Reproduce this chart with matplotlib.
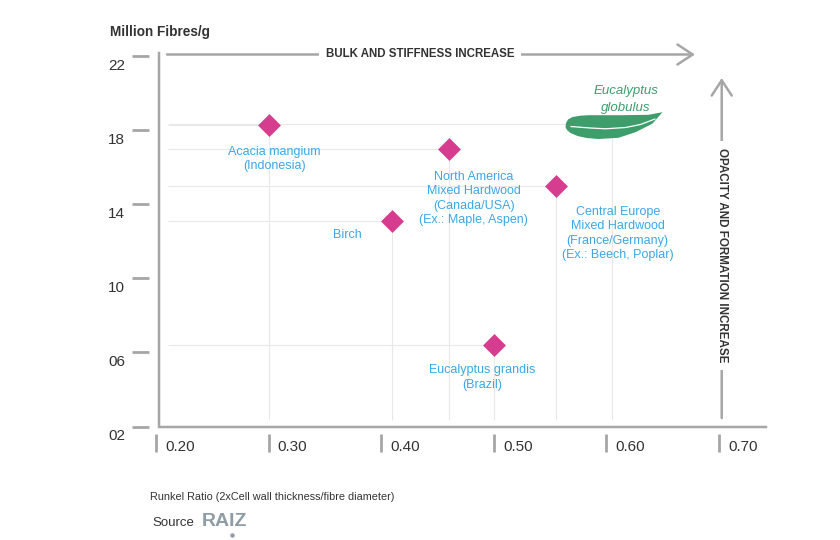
import matplotlib as mpl
import matplotlib.pyplot as plt
from matplotlib.path import Path

plt.rcParams['font.family'] = ['Liberation Sans', 'DejaVu Sans']

# data
species = ['Acacia mangium\n(Indonesia)',
           'Birch',
           'North America\nMixed Hardwood\n(Canada/USA)\n(Ex.: Maple, Aspen)',
           'Central Europe\nMixed Hardwood\n(France/Germany)\n(Ex.: Beech, Poplar)',
           'Eucalyptus grandis\n(Brazil)']
runkel = [0.30, 0.41, 0.46, 0.555, 0.50]
fibres = [18.3, 13.1, 17.0, 15.0, 6.4]

globulus_name = 'Eucalyptus\nglobulus'
globulus_runkel = 0.605
globulus_fibres = 18.35

xticks = [0.20, 0.30, 0.40, 0.50, 0.60, 0.70]
xticklabels = ['0.20', '0.30', '0.40', '0.50', '0.60', '0.70']
yticks = [22, 18, 14, 10, 6, 2]
yticklabels = ['22', '18', '14', '10', '06', '02']

# label offsets in px (dx, dy down to first line centre)
label_off = [(6, 26), (-45, 13), (25, 27), (62, 25), (-12, 24)]

PX = 0.72  # points per pixel at dpi 100
axis_grey = '#a6a6a6'
grid_grey = '#e8e8e8'
pink = '#d63d8e'
blue = '#3aa8e6'
green = '#3d9e6c'
dark = '#333333'

fig = plt.figure(figsize=(8.4, 5.4), dpi=100)
ax = fig.add_axes([156 / 840, 1 - 426.5 / 540, 610 / 840, 373.8 / 540])
ax.set_xlim(0.2, 0.2 + 610 / 1126)
ax.set_ylim(2, 22 + 3.3 / 18.53)

for s in ax.spines.values():
    s.set_visible(False)
ax.spines['left'].set_position(('outward', 7 * PX))
ax.spines['bottom'].set_position(('outward', 7 * PX))
ax.set_xticks(xticks)
ax.set_yticks(yticks)
ax.tick_params(axis='y', length=17 * PX, width=2, color=axis_grey, labelleft=False)
ax.tick_params(axis='x', length=18 * PX, width=2, color=axis_grey, labelbottom=False)

# visible axis lines
ax.plot([0.0054, 0.0054, 1], [1, 0, 0], transform=ax.transAxes, color=axis_grey,
        lw=2.5 * PX, clip_on=False, solid_joinstyle='miter', zorder=3)

for v, lab in zip(yticks, yticklabels):
    ax.annotate(lab, xy=(0, v), xycoords=('axes fraction', 'data'),
                xytext=(-31 * PX, -10 * PX), textcoords='offset points',
                ha='right', va='center', fontsize=11, color=dark)
for v, lab in zip(xticks, xticklabels):
    ax.annotate(lab, xy=(v, 0), xycoords=('data', 'axes fraction'),
                xytext=(24 * PX, -20.5 * PX), textcoords='offset points',
                ha='center', va='center', fontsize=11, color=dark)

# guide lines
all_x = runkel + [globulus_runkel]
all_y = fibres + [globulus_fibres]
ax.hlines(all_y, 0.2107, all_x, color=grid_grey, lw=0.8, zorder=1)
ax.vlines(all_x, 2.35, all_y, color=grid_grey, lw=0.8, zorder=1)

# points
ax.plot(runkel, fibres, ls='none', marker=(4, 0, 0), ms=16.5, color=pink, mew=0, zorder=4)

for name, x, y, (dx, dy) in zip(species, runkel, fibres, label_off):
    ax.annotate(name, xy=(x, y), xytext=(dx * PX, -(dy - 5) * PX),
                textcoords='offset points', ha='center', va='top',
                fontsize=9, color=blue, linespacing=1.28, zorder=5)

# leaf marker for Eucalyptus globulus
leaf = [(-47, -2.7), (-46.5, 1.5), (-44.5, 5), (-40, 7.5), (-32, 8.8), (-24, 9.3),
        (9.7, 9.3), (36, 9.7), (50, 12.3), (39.7, 0.7), (23, -7.7), (6, -13.3),
        (-14, -14.5), (-26, -13.5), (-35, -11.5), (-42, -8.5), (-45.5, -5.5), (-47, -2.7)]
leaf_path = Path(leaf, closed=True)
vein = [(-42, -2), (-22, -3.5), (-7, -4.3), (13, -3), (28, 0), (43, 5.7)]
vein_path = Path(vein)
ax.plot([globulus_runkel], [globulus_fibres], ls='none', marker=leaf_path,
        ms=2 * 50 * PX, color=green, mew=0, zorder=4)
ax.plot([globulus_runkel], [globulus_fibres], ls='none', marker=vein_path,
        ms=2 * 43 * PX, mfc='none', mec='white', mew=0.9, zorder=4)
ax.annotate(globulus_name, xy=(globulus_runkel, globulus_fibres),
            xytext=(14 * PX, 38.5 * PX), textcoords='offset points',
            ha='center', va='top', fontsize=9.5, style='italic', color=green,
            linespacing=1.55)

# direction arrows
ax.annotate('', xy=(0.8836, 0.9952), xytext=(0.018, 0.9952), xycoords='axes fraction',
            arrowprops=dict(arrowstyle='->,head_length=1.1,head_width=0.72', mutation_scale=10,
                            color=axis_grey, lw=2.5 * PX, shrinkA=0, shrinkB=0))
ax.text(0.4328, 0.9952, 'BULK AND STIFFNESS INCREASE', transform=ax.transAxes,
        ha='center', va='center', fontsize=8.3, weight='bold', color=dark,
        bbox=dict(boxstyle='square,pad=0.6', fc='white', ec='none'))
ax.annotate('', xy=(0.9274, 0.9323), xytext=(0.9274, 0.0227), xycoords='axes fraction',
            arrowprops=dict(arrowstyle='->,head_length=1.1,head_width=0.72', mutation_scale=10,
                            color=axis_grey, lw=2.5 * PX, shrinkA=0, shrinkB=0))
ax.text(0.9274, 0.457, 'OPACITY AND FORMATION INCREASE', transform=ax.transAxes,
        ha='center', va='center', rotation=270, fontsize=8.4, weight='bold', color=dark,
        bbox=dict(boxstyle='square,pad=0.6', fc='white', ec='none'))

# titles / footer
fig.text(110 / 840, 1 - 32 / 540, 'Million Fibres/g', ha='left', va='center',
         fontsize=9.8, weight='bold', color=dark)
fig.text(150 / 840, 1 - 497 / 540, 'Runkel Ratio (2xCell wall thickness/fibre diameter)',
         ha='left', va='center', fontsize=7.8, color=dark)
fig.text(152 / 840, 1 - 523 / 540, 'Source', ha='left', va='center', fontsize=9.5, color=dark)
fig.text(202 / 840, 1 - 521 / 540, 'RAIZ', ha='left', va='center', fontsize=14,
         weight='bold', color='#8f9ca6')
fig.add_artist(plt.Line2D([232 / 840], [1 - 535 / 540], marker='o', ms=3.2, mew=0,
                          color='#8f9ca6', transform=fig.transFigure))

fig.savefig('out.png', dpi=100)
